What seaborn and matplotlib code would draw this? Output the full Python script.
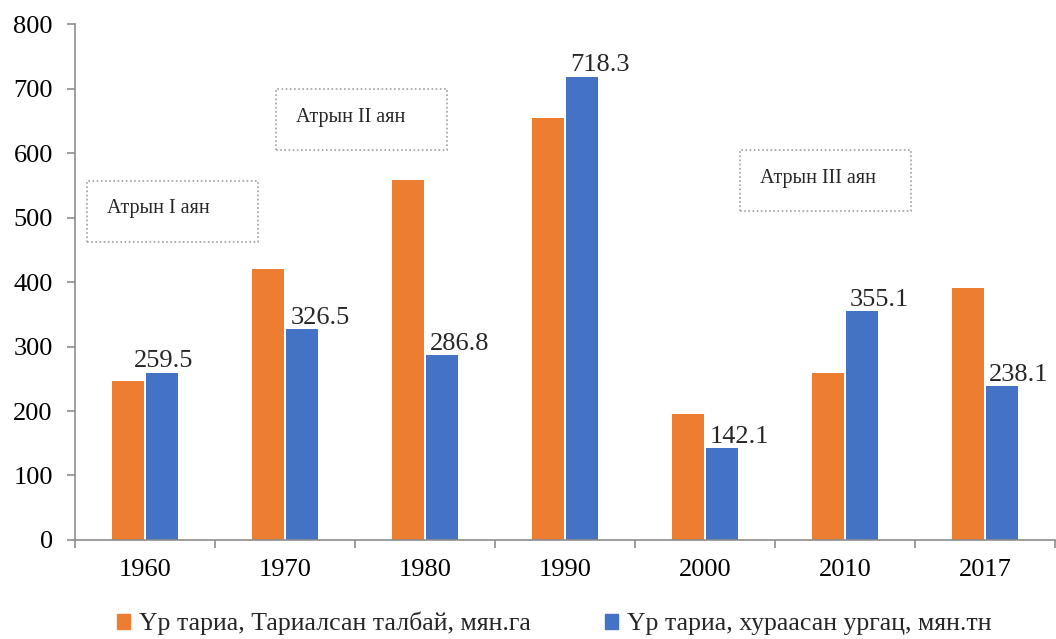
import pandas as pd
import matplotlib.pyplot as plt
import seaborn as sns
from matplotlib.patches import Rectangle

# data
years = ['1960', '1970', '1980', '1990', '2000', '2010', '2017']
area = [246, 420, 558, 654, 195, 259, 391]          # Тариалсан талбай, мян.га
seed = [259.5, 326.5, 286.8, 718.3, 142.1, 355.1, 238.1]  # хураасан ургац, мян.тн
series = ['Үр тариа, Тариалсан талбай, мян.га', 'Үр тариа, хураасан ургац, мян.тн']
stages = ['Атрын I аян', 'Атрын II аян', 'Атрын III аян']

df = pd.DataFrame({
    'year': years * 2,
    'value': area + seed,
    'series': [series[0]] * len(years) + [series[1]] * len(years),
})

sns.set_style('white')
plt.rcParams['font.family'] = ['Liberation Serif', 'DejaVu Serif']

fig = plt.figure(figsize=(10.56, 6.39), dpi=100)
ax = fig.add_axes([0.071, 0.155, 0.928, 0.807])

sns.barplot(data=df, x='year', y='value', hue='series',
            palette=['#ED7D31', '#4472C4'], saturation=1, width=0.48, gap=0.05,
            edgecolor='none', ax=ax)

ax.set_xlim(-0.5, 6.5)
ax.set_ylim(0, 800)
ax.set_yticks(range(0, 801, 100))
ax.set_xlabel('')
ax.set_ylabel('')
ax.tick_params(axis='both', labelsize=19, labelcolor='#000000')
ax.tick_params(axis='x', which='major', bottom=False, length=0, pad=14)
ax.tick_params(axis='y', left=True, length=6, width=1.2, color='#8c8c8c',
               direction='out', pad=10)
ax.set_xticks([i - 0.5 for i in range(8)], minor=True)
ax.tick_params(axis='x', which='minor', bottom=True, length=6, width=1.2,
               color='#8c8c8c', direction='out')
for s in ['top', 'right']:
    ax.spines[s].set_visible(False)
for s in ['left', 'bottom']:
    ax.spines[s].set_color('#8c8c8c')
    ax.spines[s].set_linewidth(1.2)

# labels on the blue bars (most are nudged to the right in the original)
shift = [1.5, 13, 12.5, 13, 13, 13, 12.5]
blue = ax.containers[1]
for rect, v, dx in zip(blue, seed, shift):
    ax.annotate(f'{v:.1f}', (rect.get_x() + rect.get_width() / 2, rect.get_height()),
                xytext=(dx, 4), textcoords='offset points',
                ha='center', va='baseline', fontsize=19)

# dotted stage boxes
boxes = [(-0.414, 462, 1.221, 95), (0.936, 605, 1.221, 94), (4.25, 510, 1.221, 95)]
for (bx, by, bw, bh), label in zip(boxes, stages):
    ax.add_patch(Rectangle((bx, by), bw, bh, fill=False, edgecolor='#a0a0a0',
                           linestyle=(0, (1, 1.5)), linewidth=1.2, zorder=5))
    ax.text(bx + 0.14, by + bh / 2 + 4, label, fontsize=14.5, va='center', ha='left', zorder=6)

ax.legend_.remove()
handles = [Rectangle((0, 0), 1, 1, color=c) for c in ['#ED7D31', '#4472C4']]
fig.legend(handles, series, loc='center', bbox_to_anchor=(0.525, 0.024),
           ncol=2, frameon=False, fontsize=18.5, handlelength=0.5, handleheight=0.5,
           handletextpad=0.35, columnspacing=2.9, borderpad=0)

fig.savefig('out.png', dpi=100)
